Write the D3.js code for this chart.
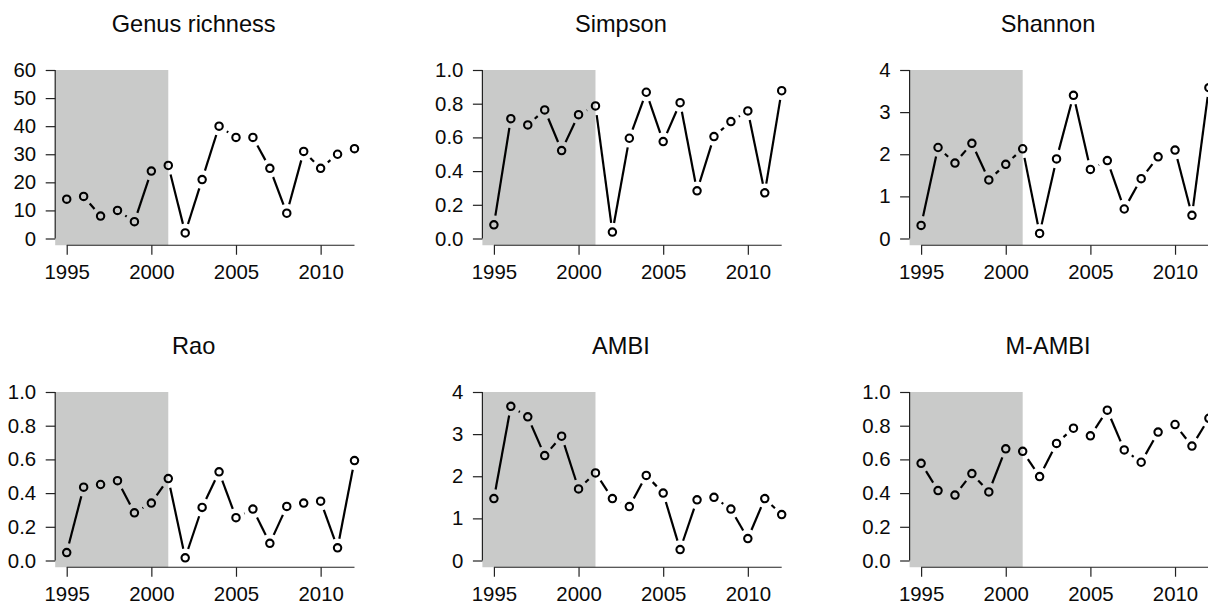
<!DOCTYPE html>
<html><head><meta charset="utf-8">
<script src="https://cdn.jsdelivr.net/npm/d3@7"></script>
<style>html,body{margin:0;padding:0;background:#fff;}svg{display:block;}</style>
</head><body>
<svg id="chart" width="1208" height="605"></svg>
<script>
const years = [1995,1996,1997,1998,1999,2000,2001,2002,2003,2004,2005,2006,2007,2008,2009,2010,2011,2012];
const genusRichness = [14,15,8,10,6,24,26,2,21,40,36,36,25,9,31,25,30,32];
const simpson = [0.081,0.711,0.674,0.763,0.522,0.735,0.787,0.038,0.595,0.868,0.575,0.806,0.283,0.605,0.694,0.757,0.271,0.877];
const shannon = [0.31,2.16,1.79,2.26,1.39,1.76,2.13,0.12,1.89,3.40,1.64,1.85,0.70,1.42,1.94,2.10,0.55,3.58];
const rao = [0.047,0.435,0.451,0.474,0.283,0.341,0.486,0.016,0.315,0.526,0.254,0.305,0.102,0.321,0.341,0.352,0.075,0.593];
const ambi = [1.47,3.66,3.41,2.49,2.95,1.70,2.08,1.47,1.28,2.02,1.60,0.26,1.44,1.50,1.22,0.52,1.47,1.09];
const mambi = [0.577,0.415,0.388,0.516,0.407,0.663,0.648,0.498,0.695,0.785,0.740,0.892,0.656,0.583,0.762,0.807,0.679,0.844];
const titles = ["Genus richness","Simpson","Shannon","Rao","AMBI","M-AMBI"];
const seriesList = [genusRichness, simpson, shannon, rao, ambi, mambi];
const ticksRichness = [0,10,20,30,40,50,60];
const ticksUnit = [0,0.2,0.4,0.6,0.8,1.0];
const ticksFour = [0,1,2,3,4];
const yTicksList = [ticksRichness, ticksUnit, ticksFour, ticksUnit, ticksFour, ticksUnit];
const xTicks = [1995,2000,2005,2010];
const shadeEnd = 2001;

const svg = d3.select("#chart");
const font = "'Liberation Sans', Arial, Helvetica, sans-serif";
const colStep = 427.2, rowStep = 322;
const plotW = 310.8;
const tickTop = 70, tickBottom = 238.5;
const gap = 9.3;

seriesList.forEach((vals, i) => {
  const c = i % 3, r = Math.floor(i / 3);
  const ticks = yTicksList[i];
  const ymin = ticks[0], ymax = ticks[ticks.length-1];
  const xr = [1995 - 0.04*17, 2012 + 0.04*17];
  const left = 55.2 + c*colStep;
  const x = d3.scaleLinear().domain(xr).range([left, left + plotW]);
  const top0 = tickTop + r*rowStep, bot0 = tickBottom + r*rowStep;
  const y = d3.scaleLinear().domain([ymin, ymax]).range([bot0, top0]);
  const yr = [ymin - 0.04*(ymax-ymin), ymax + 0.04*(ymax-ymin)];
  const g = svg.append("g");

  g.append("rect")
    .attr("x", x(xr[0])).attr("y", y(ymax))
    .attr("width", x(shadeEnd) - x(xr[0]))
    .attr("height", y(yr[0]) - y(ymax))
    .attr("fill", "#c9cac9");

  g.append("text")
    .attr("x", (x(1995) + x(2010)) / 2)
    .attr("y", 32 + r*rowStep)
    .attr("text-anchor", "middle")
    .attr("font-family", font).attr("font-size", 23.6)
    .attr("fill", "#0a0a0a")
    .text(titles[i]);

  const yAxis = d3.axisLeft(y).tickValues(ticks).tickSize(9.5).tickPadding(9.5)
    .tickFormat(ymax === 1 ? d3.format(".1f") : d3.format("d"));
  const ya = g.append("g").attr("transform", `translate(${x(xr[0])},0)`).call(yAxis);
  ya.select(".domain").attr("d", `M0,${y(ymin)}V${y(ymax)}`).attr("stroke", "#222").attr("stroke-width", 1.2);
  ya.selectAll(".tick line").attr("stroke", "#222").attr("stroke-width", 1.2);
  ya.selectAll(".tick text").attr("font-family", font).attr("font-size", 20.4).attr("fill", "#0a0a0a");

  const xAxis = d3.axisBottom(x).tickValues(xTicks).tickSize(9.5).tickPadding(10).tickFormat(d3.format("d"));
  const xa = g.append("g").attr("transform", `translate(0,${y(yr[0])})`).call(xAxis);
  xa.select(".domain").attr("d", `M${x(1995)},0H${x(2012)}`).attr("stroke", "#222").attr("stroke-width", 1.2);
  xa.selectAll(".tick line").attr("stroke", "#222").attr("stroke-width", 1.2);
  xa.selectAll(".tick text").attr("font-family", font).attr("font-size", 20.4).attr("fill", "#0a0a0a");

  const pts = years.map((yr_, k) => [x(yr_), y(vals[k])]);
  for (let k = 0; k < pts.length - 1; k++) {
    const [x0, y0] = pts[k], [x1, y1] = pts[k+1];
    const dx = x1 - x0, dy = y1 - y0, dist = Math.hypot(dx, dy);
    if (dist > 2*gap) {
      const f = gap / dist;
      g.append("line")
        .attr("x1", x0 + f*dx).attr("y1", y0 + f*dy)
        .attr("x2", x1 - f*dx).attr("y2", y1 - f*dy)
        .attr("stroke", "#000").attr("stroke-width", 2.2);
    }
  }
  g.selectAll("circle.pt").data(years).enter().append("circle")
    .attr("cx", d => x(d)).attr("cy", (d, k) => y(vals[k]))
    .attr("r", 3.7).attr("fill", "none").attr("stroke", "#000").attr("stroke-width", 2.1);
});
</script>
</body></html>
